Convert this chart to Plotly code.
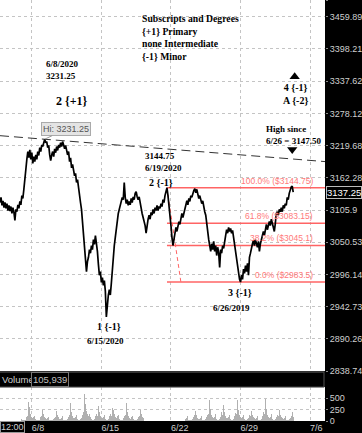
import numpy as np
import plotly.graph_objects as go

# ---------------- data ----------------
# price of each bar (futures, bars evenly spaced in trading time)
price = [
    3119, 3128, 3114, 3122, 3110, 3119, 3109, 3117, 3105, 3114,
    3104, 3112, 3100, 3110, 3102, 3088, 3107, 3103, 3115, 3109,
    3121, 3115, 3131, 3126, 3142, 3156, 3177, 3195, 3209, 3198,
    3212, 3195, 3207, 3188, 3200, 3191, 3203, 3195, 3209, 3202,
    3216, 3209, 3221, 3218, 3228, 3231.25, 3225, 3227, 3216, 3220,
    3203, 3193, 3203, 3209, 3200, 3214, 3207, 3218, 3211, 3221,
    3216, 3225, 3218, 3227, 3221, 3214, 3220, 3209, 3203, 3209,
    3191, 3198, 3180, 3186, 3173, 3166, 3170, 3154, 3159, 3142,
    3131, 3119, 3107, 3086, 3072, 3050, 3030, 3001, 3018, 3025,
    3038, 3032, 3045, 3038, 3055, 3047, 3062, 3052, 3035, 3013,
    2995, 3001, 2983, 2991, 2978, 2986, 2968, 2926, 2955, 2962,
    2971, 2962, 2981, 3008, 3025, 3045, 3059, 3076, 3093, 3100,
    3107, 3114, 3117, 3128, 3124, 3154, 3128, 3117, 3124, 3114,
    3121, 3115, 3126, 3119, 3129, 3124, 3135, 3138, 3129, 3124,
    3129, 3117, 3110, 3100, 3093, 3086, 3079, 3066, 3083, 3090,
    3097, 3090, 3102, 3097, 3107, 3100, 3110, 3105, 3114, 3105,
    3112, 3109, 3117, 3112, 3124, 3119, 3131, 3136, 3144.75, 3131,
    3117, 3100, 3079, 3059, 3045, 3055, 3066, 3076, 3069, 3079,
    3086, 3081, 3091, 3100, 3093, 3100, 3109, 3114, 3122, 3115,
    3126, 3121, 3131, 3128, 3136, 3140, 3143, 3136, 3142, 3131,
    3126, 3131, 3121, 3117, 3122, 3109, 3103, 3097, 3079, 3066,
    3055, 3045, 3035, 3048, 3038, 3052, 3035, 3045, 3028, 3042,
    3033, 3008, 3038, 3032, 3045, 3040, 3055, 3062, 3072, 3066,
    3076, 3069, 3074, 3066, 3071, 3059, 3042, 3028, 3018, 3005,
    2996, 2988, 2983.5, 2995, 2988, 3005, 2998, 3011, 3001, 3015,
    2995, 3025, 3032, 3042, 3048, 3054, 3045, 3055, 3048, 3042,
    3052, 3035, 3048, 3055, 3062, 3069, 3062, 3076, 3081, 3072,
    3083, 3086, 3079, 3090, 3083, 3076, 3069, 3083, 3100, 3103,
    3097, 3107, 3103, 3110, 3103, 3114, 3109, 3117, 3114, 3128,
    3124, 3135, 3142, 3146, 3147.5, 3137.25,
]

volume = [
    25, 60, 35, 22, 30, 20, 45, 95, 40, 28, 20, 18, 30, 60,
    90, 280, 150, 90, 60, 45, 70, 110, 40, 22, 15, 18, 25, 90,
    120, 425, 300, 160, 90, 60, 80, 120, 35, 20, 18, 22, 30, 80,
    100, 250, 160, 85, 60, 40, 55, 90, 30, 18, 15, 20, 35, 75,
    90, 220, 130, 80, 50, 45, 70, 100, 30, 18, 20, 25, 40, 90,
    130, 385, 200, 120, 70, 55, 80, 140, 40, 25, 30, 45, 70, 130,
    200, 590, 380, 220, 150, 120, 160, 90, 35, 28, 30, 45, 110, 150,
    110, 320, 190, 110, 70, 60, 90, 130, 40, 25, 30, 50, 120, 150,
    120, 280, 240, 150, 90, 70, 100, 140, 40, 20, 22, 30, 60, 120,
    140, 385, 200, 110, 70, 50, 80, 120, 35, 18, 15, 25, 40, 80,
    100, 250, 150, 80, 55, 40, 60, 95, 30, 15, 18, 25, 45, 90,
    110, 250, 140, 75, 50, 40, 65, 100, 30, 18, 20, 30, 50, 110,
    130, 320, 170, 90, 60, 45, 70, 120, 35, 20, 25, 35, 60, 100,
    120, 250, 150, 85, 55, 45, 65, 110, 30, 18, 20, 25, 40, 90,
    130, 220, 130, 75, 50, 40, 60, 100, 30, 20, 25, 40, 80, 130,
    150, 450, 260, 140, 80, 60, 85, 150, 40, 25, 30, 45, 90, 200,
    140, 350, 190, 110, 70, 55, 80, 130, 40, 20, 25, 45, 100, 180,
    150, 450, 250, 130, 80, 60, 90, 140, 35, 20, 25, 35, 70, 130,
    110, 220, 130, 80, 55, 45, 75, 110, 30, 20, 30, 50, 110, 200,
    160, 490, 260, 140, 80, 60, 90, 150, 35, 20, 25, 40, 80, 140,
    120, 250, 140, 80, 55, 45, 70, 120, 30, 20, 25, 40, 70, 120, 200, 90,
]

# time axis in trading days counted from 6/8 (weekends removed)
first_bar_day = -16 / 7
bar_step_days = 1 / 14
bar_days = [first_bar_day + i * bar_step_days for i in range(len(price))]
axis_end_day = 21.07

week_tick_days = [0, 5, 10, 15, 20]
week_tick_labels = ["6/8", "6/15", "6/22", "6/29", "7/6"]

price_tick_values = [3492.42, 3459.89, 3398.21, 3337.62, 3278.12, 3219.68, 3162.28,
                     3105.9, 3050.53, 2996.14, 2942.73, 2890.26, 2838.74]
price_tick_labels = ["3492.42", "3459.89", "3398.21", "3337.62", "3278.12", "3219.68",
                     "3162.28", "3105.9", "3050.53", "2996.14", "2942.73", "2890.26", "2838.74"]
price_range = [2838.74, 3492.42]

volume_tick_values = [0, 250, 500]
volume_range = [0, 740]

fib_labels = ["100.0%", "61.8%", "38.2%", "0.0%"]
fib_prices = [3144.75, 3083.15, 3045.1, 2983.5]
fib_start_day = 9.714          # 6/19 high bar
fib_diag_days = [9.714, 10.714]
fib_diag_prices = [3144.75, 2983.5]

trend_days = [first_bar_day, axis_end_day]
trend_prices = [3237.6, 3191.1]

swing_high_day = 0.9286
swing_high_price = 3231.25
last_price = 3137.25

marker_days = [18.714, 18.89]
marker_prices = [3212.5, 3345.8]
marker_symbols = ["triangle-down", "triangle-up"]

# ---------------- figure ----------------
W, H = 362, 433
ML, MR, MT, MB = 0, 35, 0, 11
PW, PH = W - ML - MR, H - MT - MB  # plot area 327 x 422

def px(x):
    return x / PW

def py(y):
    return (PH - y) / PH

SERIF = "Liberation Serif"
SANS = "Liberation Sans"
FIB_COLOR = "#ff6464"
FIB_TEXT = "#ff7a7a"
GRID = "#c4c4c4"
AXIS_TXT = "#cfcfcf"

fig = go.Figure()

# volume bars
fig.add_trace(go.Bar(x=bar_days, y=volume, xaxis="x", yaxis="y2",
                     marker=dict(color="#b0b0b0", line=dict(width=0)),
                     width=bar_step_days * 0.75, hoverinfo="skip"))

# trend line (dashed)
fig.add_trace(go.Scatter(x=trend_days, y=trend_prices, mode="lines",
                         line=dict(color="#333333", width=1, dash="9px,5px"),
                         hoverinfo="skip"))

# fib levels
for p in fib_prices:
    fig.add_trace(go.Scatter(x=[fib_start_day, axis_end_day], y=[p, p], mode="lines",
                             line=dict(color=FIB_COLOR, width=1.6), hoverinfo="skip"))
fig.add_trace(go.Scatter(x=fib_diag_days, y=fib_diag_prices, mode="lines",
                         line=dict(color=FIB_COLOR, width=1, dash="4px,3px"), hoverinfo="skip"))

# price
fig.add_trace(go.Scatter(x=bar_days, y=price, mode="lines",
                         line=dict(color="black", width=1.7), hoverinfo="skip"))

# triangle markers
fig.add_trace(go.Scatter(x=marker_days, y=marker_prices, mode="markers",
                         marker=dict(symbol=marker_symbols, size=9, color="black"),
                         hoverinfo="skip"))

fig.update_layout(
    width=W, height=H,
    margin=dict(l=ML, r=MR, t=MT, b=MB, pad=0),
    paper_bgcolor="black", plot_bgcolor="white",
    showlegend=False, bargap=0, hovermode=False,
    xaxis=dict(range=[first_bar_day, axis_end_day], anchor="y2",
               tickvals=week_tick_days, ticktext=week_tick_labels,
               ticklabelposition="outside right",
               tickfont=dict(family=SANS, size=9, color=AXIS_TXT),
               showgrid=True, gridcolor=GRID, griddash="dot", gridwidth=1,
               zeroline=False, showline=False, ticks=""),
    yaxis=dict(type="log", domain=[py(372), 1], anchor="x", side="right",
               range=[np.log10(price_range[0]), np.log10(price_range[1])],
               tickvals=price_tick_values, ticktext=price_tick_labels,
               tickfont=dict(family=SANS, size=9, color=AXIS_TXT),
               ticks="outside", ticklen=2, tickcolor="#888",
               showgrid=True, gridcolor=GRID, griddash="dot", gridwidth=1,
               zeroline=False, showline=False),
    yaxis2=dict(domain=[0, py(388)], anchor="x", side="right",
                range=volume_range, tickvals=volume_tick_values,
                tickfont=dict(family=SANS, size=9, color=AXIS_TXT),
                ticks="outside", ticklen=2, tickcolor="#888",
                showgrid=True, gridcolor=GRID, griddash="dot", gridwidth=1,
                zeroline=False, showline=False),
)

# volume header bar
fig.add_shape(type="rect", xref="paper", yref="paper",
              x0=px(-2), x1=px(326), y0=py(388), y1=py(373),
              fillcolor="black", line=dict(color="#555555", width=1), layer="above")

ann = []

def note(text, x, y, size, xanchor="left", yanchor="middle", align="left",
         family=SERIF, color="black", **kw):
    ann.append(dict(text=text, x=px(x), y=py(y), xref="paper", yref="paper",
                    xanchor=xanchor, yanchor=yanchor, align=align, showarrow=False,
                    font=dict(family=family, size=size, color=color), **kw))

note("<b>Subscripts and Degrees<br>{+1} Primary<br>none Intermediate<br>{-1} Minor</b>",
     141, 11, 9.7, yanchor="top")
note("<b>6/8/2020<br>3231.25</b>", 44, 57, 9, yanchor="top")
note("<b>2 {+1}</b>", 72, 101, 12, xanchor="center")
note("<b>3144.75<br>6/19/2020</b>", 144, 149, 9, yanchor="top")
note("<b>2 {-1}</b>", 161.5, 183, 10, xanchor="center")
note("<b>1 {-1}</b>", 109.5, 327, 10, xanchor="center")
note("<b>6/15/2020</b>", 106.5, 342, 9, xanchor="center")
note("<b>3 {-1}</b>", 241, 293, 10, xanchor="center")
note("<b>6/26/2019</b>", 233, 309, 9, xanchor="center")
note("<b>High since<br>6/26 = 3147.50</b>", 266, 122, 9, yanchor="top")
note("<b>4 {-1}<br>A {-2}</b>", 297, 80, 10, xanchor="center", yanchor="top", align="center")

# fib labels
for lab, p in zip(fib_labels, fib_prices):
    ann.append(dict(text=f"{lab} (${p:g})", x=px(317), xref="paper",
                    y=np.log10(p), yref="y", xanchor="right", yanchor="bottom",
                    showarrow=False, font=dict(family=SANS, size=8.5, color=FIB_TEXT)))

# high bubble
ann.append(dict(text=f"Hi: {swing_high_price:.2f}", x=swing_high_day, y=np.log10(swing_high_price),
                xref="x", yref="y", showarrow=True, arrowhead=0, arrowwidth=1,
                arrowcolor="#999999", ax=21, ay=-10, standoff=0,
                bgcolor="#e4e4e4", bordercolor="#aaaaaa", borderwidth=1, borderpad=1,
                font=dict(family=SANS, size=9, color="#555555")))

# last price box on axis
ann.append(dict(text=f"{last_price:.2f}", x=1, xref="paper", y=np.log10(last_price), yref="y",
                xanchor="left", yanchor="middle", xshift=1, showarrow=False,
                bgcolor="black", bordercolor="#bbbbbb", borderwidth=1, borderpad=0,
                font=dict(family=SANS, size=9.5, color="white")))

# volume header texts
note("Volume", 0, 380.5, 9.5, family=SANS, color="#d0d0d0")
note("105,939", 31, 380.5, 9.5, family=SANS, color="#c0c0c0",
     bordercolor="#777777", borderwidth=1, borderpad=1, bgcolor="black")
# time cursor box
note("12:00", 0, 428, 9, family=SANS, color="#d0d0d0",
     bordercolor="#999999", borderwidth=1, borderpad=0, bgcolor="black")

fig.update_layout(annotations=ann)

fig.write_html("out.html", config={"displayModeBar": False, "staticPlot": True},
               post_script="document.body.style.margin='0';document.body.style.overflow='hidden';")
